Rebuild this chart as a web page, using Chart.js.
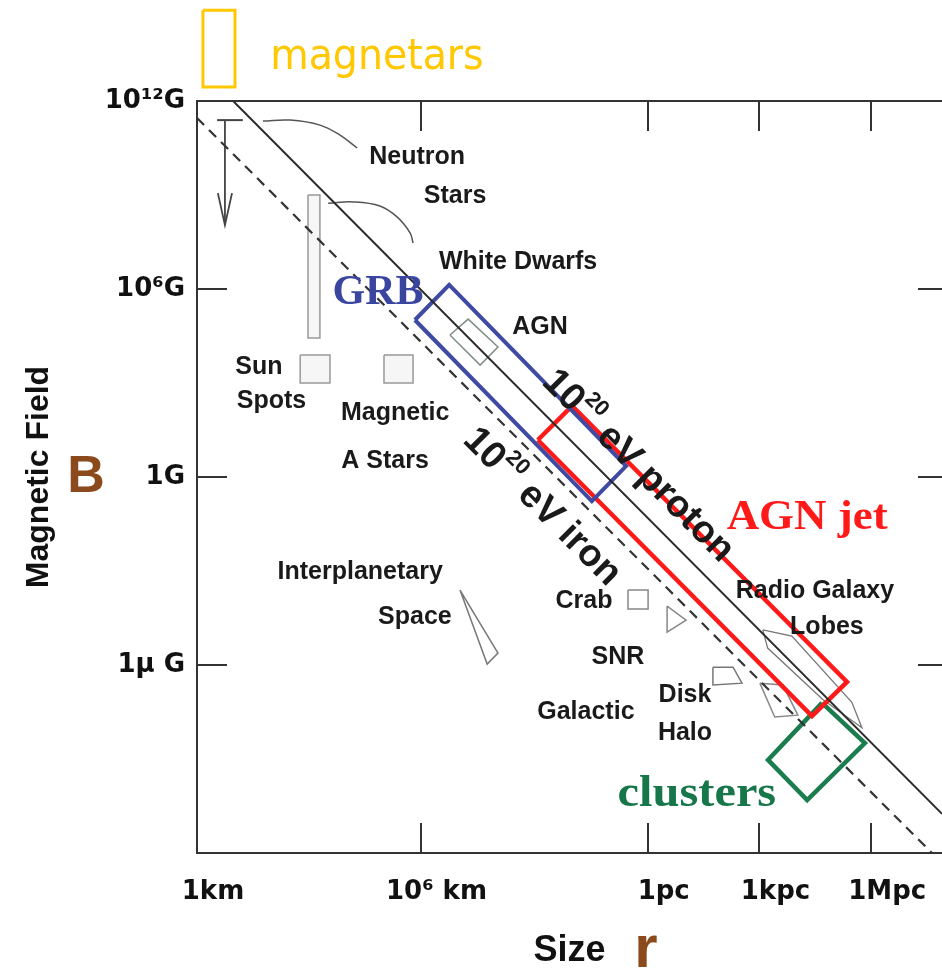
<!DOCTYPE html>
<html>
<head>
<meta charset="utf-8">
<script src="https://cdn.jsdelivr.net/npm/chart.js@4.4.1/dist/chart.umd.min.js"></script>
<style>
  html, body { margin: 0; padding: 0; background: #fff; }
  #hillasChart { display: block; }
</style>
</head>
<body>
<canvas id="hillasChart" width="942" height="973"></canvas>
<script>
// x: decades of size as laid out on the figure (1 km = 0), y: log10(B / gauss)
const sizeTicks = [0, 6, 12.1, 15.1, 18.1];
const sizeTickLabels = ["1km", "10⁶ km", "1pc", "1kpc", "1Mpc"];
const fieldTicks = [12, 6, 0, -6];
const fieldTickLabels = ["10¹²G", "10⁶G", "1G", "1μ G"];

// Hillas limits for 10^20 eV particles
const protonLimit = [[0.97, 12], [20, -10.75]];
const ironLimit = [[0, 11.46], [19.73, -12]];

// source regions, [log r, log B] corners
const magnetarBox = [[0.16, 14.9], [1.02, 14.9], [1.02, 12.45], [0.16, 12.45]];
const grbBox = [[5.85, 5.01], [6.77, 6.13], [11.52, 0.35], [10.6, -0.77]];
const agnBox = [[6.79, 4.53], [7.28, 5.04], [8.08, 4.15], [7.6, 3.57]];
const agnJetBox = [[9.15, 1.18], [10.07, 2.27], [17.45, -6.54], [16.51, -7.63]];
const clusterBox = [[16.78, -7.21], [17.93, -8.49], [16.38, -10.31], [15.33, -9.03]];
const whiteDwarfBar = [[2.98, 9.0], [3.3, 9.0], [3.3, 4.44], [2.98, 4.44]];
const sunSpotBox = [[2.77, 3.89], [3.57, 3.89], [3.57, 3.0], [2.77, 3.0]];
const aStarBox = [[5.02, 3.89], [5.8, 3.89], [5.8, 3.0], [5.02, 3.0]];
const interplanetaryWedge = [[7.06, -3.61], [8.08, -5.62], [7.79, -5.97]];
const crabBox = [[11.57, -3.61], [12.11, -3.61], [12.11, -4.21], [11.57, -4.21]];
const snrTriangle = [[12.62, -4.12], [13.13, -4.57], [12.62, -4.95]];
const diskShape = [[13.85, -6.07], [14.39, -6.07], [14.63, -6.58], [13.85, -6.64]];
const haloShape = [[15.11, -6.58], [15.73, -6.64], [16.13, -7.6], [15.51, -7.66]];
const lobeShape = [[15.19, -4.88], [15.97, -5.08], [17.58, -7.19], [17.85, -8.0], [16.8, -7.1], [15.32, -5.46]];

// neutron star range (bar + arrow) and leader lines
const neutronBar = [[0.54, 11.39], [1.23, 11.39]];
const neutronArrow = [[0.75, 11.39], [0.75, 8.04]];
const neutronArrowHead = [[0.56, 9.06], [0.75, 8.04], [0.94, 9.06]];
const neutronLeader = [[1.77, 11.36], [2.5, 11.39], [3.3, 11.23], [3.84, 10.91], [4.3, 10.5]];
const whiteDwarfLeader = [[3.52, 8.74], [4.19, 8.78], [4.91, 8.65], [5.37, 8.3], [5.72, 7.79], [5.8, 7.47]];

const NOTE_FONT = "bold 25px 'Liberation Sans', Arial, sans-serif";
const serifFont = (size) => `bold ${size}px 'Liberation Serif', 'Times New Roman', serif`;
const BROWN = "#8b4a1c";

const notes = [
    { text: "Neutron", x: 5.91, y: 10.21 },
    { text: "Stars", x: 6.93, y: 8.97 },
    { text: "White Dwarfs", x: 8.62, y: 6.86 },
    { text: "AGN", x: 9.21, y: 4.79 },
    { text: "Sun", x: 1.66, y: 3.51 },
    { text: "Spots", x: 2.0, y: 2.42 },
    { text: "Magnetic", x: 5.32, y: 2.04 },
    { text: "A Stars", x: 5.05, y: 0.51 },
    { text: "Interplanetary", x: 4.38, y: -3.03 },
    { text: "Space", x: 5.85, y: -4.47 },
    { text: "Crab", x: 10.39, y: -3.96 },
    { text: "SNR", x: 11.3, y: -5.75 },
    { text: "Disk", x: 13.1, y: -6.96 },
    { text: "Galactic", x: 10.44, y: -7.5 },
    { text: "Halo", x: 13.1, y: -8.17 },
    { text: "Radio Galaxy", x: 16.59, y: -3.64 },
    { text: "Lobes", x: 16.91, y: -4.79 },
    { text: "GRB", x: 4.86, y: 5.87, font: serifFont(42), color: "#3a45a0" },
    { text: "AGN jet", x: 16.38, y: -1.31, font: serifFont(42), color: "#ff1a1a", stretch: 1.07 },
    { text: "clusters", x: 13.42, y: -10.15, font: serifFont(44), color: "#17774a", stretch: 1.1 },
    { text: "magnetars", x: 4.83, y: 13.37, font: "42px 'DejaVu Sans', sans-serif", color: "#ffc800", stretch: 0.94 },
    { text: "B", x: -2.98, y: -0.03, font: "bold 52px 'Liberation Sans', Arial, sans-serif", color: BROWN },
    { text: "r", x: 12.05, y: -15.1, font: "bold 60px 'Liberation Sans', Arial, sans-serif", color: BROWN },
    { parts: [["10", false], ["20", true], [" eV proton", false]], x: 11.84, y: 0.35, along: protonLimit,
      font: "bold 38px 'Liberation Sans', Arial, sans-serif", supFont: "bold 22px 'Liberation Sans', Arial, sans-serif", supRise: 14 },
    { parts: [["10", false], ["20", true], [" eV iron", false]], x: 9.26, y: -0.96, along: ironLimit,
      font: "bold 38px 'Liberation Sans', Arial, sans-serif", supFont: "bold 22px 'Liberation Sans', Arial, sans-serif", supRise: 14 }
];

const TICK_IN = 30;

const toPoints = (pts) => pts.map(([x, y]) => ({ x, y }));
const closed = (pts) => toPoints([...pts, pts[0]]);

function outline(label, pts, color, width, extra) {
    return Object.assign({
        label,
        data: closed(pts),
        borderColor: color,
        borderWidth: width,
        backgroundColor: "rgba(0,0,0,0)",
        fill: false,
        pointRadius: 0,
        tension: 0
    }, extra || {});
}

function path(label, pts, color, width, extra) {
    return Object.assign({
        label,
        data: toPoints(pts),
        borderColor: color,
        borderWidth: width,
        fill: false,
        pointRadius: 0,
        tension: 0
    }, extra || {});
}

const lightFill = { fill: "shape", backgroundColor: "rgba(240,240,240,0.6)" };

const datasets = [
    path("10^20 eV proton", protonLimit, "#2a2a2a", 2),
    path("10^20 eV iron", ironLimit, "#333", 2.2, { borderDash: [10, 7] }),
    outline("magnetars", magnetarBox, "#ffc800", 3, { clip: false }),
    outline("GRB", grbBox, "#3f4aa3", 4),
    outline("AGN", agnBox, "#7f8f86", 1.5),
    outline("AGN jet", agnJetBox, "#ff1a1a", 4.5),
    outline("clusters", clusterBox, "#1b7d4e", 4.5),
    outline("White Dwarfs", whiteDwarfBar, "#999", 1.5, lightFill),
    outline("Sun Spots", sunSpotBox, "#999", 1.5, lightFill),
    outline("Magnetic A Stars", aStarBox, "#999", 1.5, lightFill),
    outline("Interplanetary Space", interplanetaryWedge, "#777", 1.5),
    outline("Crab", crabBox, "#888", 1.5),
    outline("SNR", snrTriangle, "#888", 1.5),
    outline("Disk", diskShape, "#777", 1.5),
    outline("Halo", haloShape, "#888", 1.5),
    outline("Radio Galaxy Lobes", lobeShape, "#777", 1.3),
    path("neutron bar", neutronBar, "#444", 2),
    path("neutron arrow", neutronArrow, "#444", 1.8),
    path("neutron arrow head", neutronArrowHead, "#444", 1.8),
    path("neutron leader", neutronLeader, "#555", 1.5, { tension: 0.4 }),
    path("white dwarf leader", whiteDwarfLeader, "#555", 1.5, { tension: 0.4 })
];

function drawNote(ctx, xs, ys, note) {
    const px = xs.getPixelForValue(note.x);
    const py = ys.getPixelForValue(note.y);
    const parts = note.parts || [[note.text, false]];
    const font = note.font || NOTE_FONT;

    ctx.save();
    ctx.translate(px, py);
    if (note.along) {
        const [a, b] = note.along;
        const dx = xs.getPixelForValue(b[0]) - xs.getPixelForValue(a[0]);
        const dy = ys.getPixelForValue(b[1]) - ys.getPixelForValue(a[1]);
        ctx.rotate(Math.atan2(dy, dx));
    }
    if (note.stretch) ctx.scale(note.stretch, 1);
    ctx.fillStyle = note.color || "#1a1a1a";
    ctx.textBaseline = "middle";
    ctx.textAlign = "left";

    const widths = parts.map(([t, sup]) => {
        ctx.font = sup ? note.supFont : font;
        return ctx.measureText(t).width;
    });
    let cx = -widths.reduce((s, w) => s + w, 0) / 2;
    parts.forEach(([t, sup], i) => {
        ctx.font = sup ? note.supFont : font;
        ctx.fillText(t, cx, sup ? -note.supRise : 0);
        cx += widths[i];
    });
    ctx.restore();
}

const hillasDecor = {
    id: "hillasDecor",
    afterDatasetsDraw(chart) {
        const { ctx, chartArea: area, scales: { x, y } } = chart;
        ctx.save();
        ctx.strokeStyle = "#333";
        ctx.lineWidth = 2;

        // top frame
        ctx.beginPath();
        ctx.moveTo(area.left, area.top);
        ctx.lineTo(area.right, area.top);
        ctx.stroke();

        // inward ticks on every side
        ctx.beginPath();
        sizeTicks.forEach((v) => {
            const px = Math.round(x.getPixelForValue(v));
            ctx.moveTo(px, area.bottom);
            ctx.lineTo(px, area.bottom - TICK_IN);
            ctx.moveTo(px, area.top);
            ctx.lineTo(px, area.top + TICK_IN);
        });
        fieldTicks.forEach((v) => {
            const py = Math.round(y.getPixelForValue(v));
            ctx.moveTo(area.left, py);
            ctx.lineTo(area.left + TICK_IN, py);
            ctx.moveTo(area.right, py);
            ctx.lineTo(area.right - 24, py);
        });
        ctx.stroke();
        ctx.restore();

        notes.forEach((note) => drawNote(ctx, x, y, note));
    }
};

const tickFont = { family: "'DejaVu Sans', sans-serif", size: 26, weight: "bold" };

new Chart(document.getElementById("hillasChart"), {
    type: "line",
    data: { datasets },
    options: {
        responsive: false,
        animation: false,
        devicePixelRatio: 1,
        layout: { padding: { top: 101, right: 0, bottom: 0, left: 0 } },
        plugins: {
            legend: { display: false },
            tooltip: { enabled: false }
        },
        scales: {
            x: {
                type: "linear",
                min: 0,
                max: 20,
                afterFit: (scale) => { scale.height = 120; },
                afterBuildTicks: (scale) => { scale.ticks = sizeTicks.map((value) => ({ value })); },
                ticks: {
                    callback: (value, index) => sizeTickLabels[index],
                    font: tickFont,
                    color: "#111",
                    padding: 16,
                    labelOffset: 16,
                    maxRotation: 0,
                    autoSkip: false
                },
                grid: { display: false },
                border: { display: true, color: "#333", width: 2 },
                title: {
                    display: true,
                    text: "Size",
                    color: "#111",
                    font: { family: "'Liberation Sans', Arial, sans-serif", size: 36, weight: "bold", lineHeight: 1.2 },
                    padding: 0
                }
            },
            y: {
                type: "linear",
                min: -12,
                max: 12,
                afterFit: (scale) => { scale.width = 197; },
                afterBuildTicks: (scale) => { scale.ticks = fieldTicks.map((value) => ({ value })); },
                ticks: {
                    callback: (value, index) => fieldTickLabels[index],
                    font: tickFont,
                    color: "#111",
                    padding: 4,
                    autoSkip: false
                },
                grid: { display: false },
                border: { display: true, color: "#333", width: 2 },
                title: {
                    display: true,
                    text: "Magnetic Field",
                    color: "#111",
                    font: { family: "'Liberation Sans', Arial, sans-serif", size: 32, weight: "bold", lineHeight: 1.2 },
                    padding: { top: 20, bottom: 0 }
                }
            }
        }
    },
    plugins: [hillasDecor]
});
</script>
</body>
</html>
